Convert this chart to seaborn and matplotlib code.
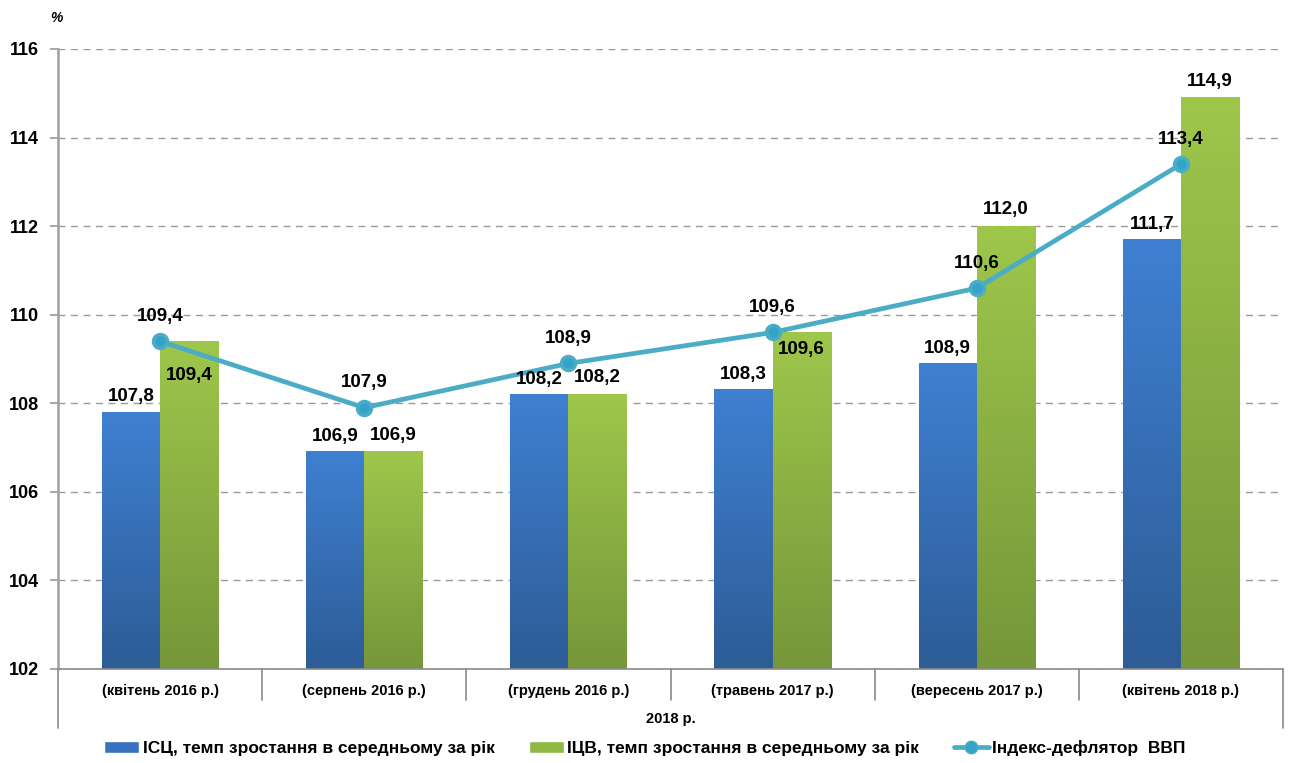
import numpy as np
import pandas as pd
import seaborn as sns
import matplotlib.pyplot as plt
from matplotlib.colors import LinearSegmentedColormap
from matplotlib.patches import Patch
from matplotlib.lines import Line2D
import matplotlib.transforms as mtransforms

# Dados
categorias = ["(квітень 2016 р.)", "(серпень 2016 р.)", "(грудень 2016 р.)",
              "(травень 2017 р.)", "(вересень 2017 р.)", "(квітень 2018 р.)"]
isc = [107.8, 106.9, 108.2, 108.3, 108.9, 111.7]
icv = [109.4, 106.9, 108.2, 109.6, 112.0, 114.9]
deflator = [109.4, 107.9, 108.9, 109.6, 110.6, 113.4]
rotulos_y = [102, 104, 106, 108, 110, 112, 114, 116]

nome_isc = "ІСЦ, темп зростання в середньому за рік"
nome_icv = "ІЦВ, темп зростання в середньому за рік"
nome_def = "Індекс-дефлятор  ВВП"

sns.set_theme(style="white")
plt.rcParams["font.family"] = ["Liberation Sans", "DejaVu Sans"]
plt.rcParams["text.color"] = "black"
plt.rcParams["xtick.color"] = "black"
plt.rcParams["ytick.color"] = "black"

df = pd.DataFrame({
    "cat": categorias * 2,
    "valor": isc + icv,
    "serie": [nome_isc] * 6 + [nome_icv] * 6,
})

fig = plt.figure(figsize=(12.9, 7.63), dpi=100)
ax = fig.add_axes([0.045, 0.1232, 0.9496, 0.8126])

azul = "#3a78c6"
verde = "#8fb944"
linha = "#4bacc6"

sns.barplot(data=df, x="cat", y="valor", hue="serie", palette=[azul, verde],
            width=0.57, gap=0, legend=False, ax=ax, zorder=2)

# Criando gradiente nas barras
def gradiente(ax, barras, topo, base, y0):
    cmap = LinearSegmentedColormap.from_list("g", [base, topo])
    grad = np.linspace(0, 1, 256).reshape(-1, 1)
    for b in barras:
        x, w, h = b.get_x(), b.get_width(), b.get_y() + b.get_height()
        ax.imshow(grad, cmap=cmap, extent=[x, x + w, y0, h], origin="lower",
                  aspect="auto", zorder=2.5, interpolation="bicubic")

gradiente(ax, ax.containers[0], "#3f80d2", "#2d5c96", rotulos_y[0])
gradiente(ax, ax.containers[1], "#9ec74b", "#76963a", rotulos_y[0])

sns.pointplot(x=categorias, y=deflator, color=linha, markers="o", linestyles="-",
              errorbar=None, ax=ax, linewidth=3.4, markersize=10, zorder=4)
for ln in ax.lines:
    ln.set_markerfacecolor("#33a4c8")
    ln.set_markeredgecolor(linha)
    ln.set_zorder(4)

ax.set_xlim(-0.5, 5.5)
ax.set_ylim(102, 116)
ax.set_yticks(rotulos_y)
ax.set_yticklabels([str(v) for v in rotulos_y], fontsize=13, fontweight="bold",
                   color="black")
ax.yaxis.grid(True, color="#9a9a9a", linestyle=(0, (5, 4)), linewidth=1)
ax.set_axisbelow(True)
ax.tick_params(axis="y", length=6, width=1.2, color="#9a9a9a", pad=8, left=True)
ax.tick_params(axis="x", length=0, pad=11)
for t in ax.get_xticklabels():
    t.set_fontsize(10.5)
    t.set_fontweight("bold")
    t.set_color("black")
ax.set_xlabel("")
ax.set_ylabel("")

for s in ["top", "right"]:
    ax.spines[s].set_visible(False)
ax.spines["left"].set_color("#a0a0a0")
ax.spines["left"].set_linewidth(1.8)
ax.spines["bottom"].set_color("#8a8a8a")
ax.spines["bottom"].set_linewidth(1.2)

# divisores das categorias
trans = mtransforms.blended_transform_factory(ax.transData, ax.transAxes)
for i in range(len(categorias) + 1):
    fim = -0.095 if i in (0, len(categorias)) else -0.05
    ax.plot([i - 0.5, i - 0.5], [0, fim], color="#8a8a8a", lw=1.2,
            transform=trans, clip_on=False)

ax.text(0.5, -0.081, "2018 р.", transform=ax.transAxes, ha="center", va="center",
        fontsize=10.5, fontweight="bold", color="black")

# rotulos de dados
ofs_icv = [-25, 12, 12, -12, 12, 12]
estilo = dict(textcoords="offset points", ha="center", va="center",
              fontsize=13.5, fontweight="bold", color="black", zorder=6)
for i in range(len(categorias)):
    ax.annotate(f"{isc[i]:.1f}".replace(".", ","), (i - 0.1425, isc[i]),
                xytext=(0, 11), **estilo)
    ax.annotate(f"{icv[i]:.1f}".replace(".", ","), (i + 0.1425, icv[i]),
                xytext=(0, ofs_icv[i]), **estilo)
    ax.annotate(f"{deflator[i]:.1f}".replace(".", ","), (i, deflator[i]),
                xytext=(0, 18), **estilo)

fig.text(0.044, 0.977, "%", ha="center", va="center", fontsize=10,
         fontweight="bold", fontstyle="italic", color="black")

handles = [Patch(facecolor="#3672bf", label=nome_isc),
           Patch(facecolor="#8fb944", label=nome_icv),
           Line2D([], [], color=linha, lw=3.4, marker="o", markersize=9,
                  markerfacecolor="#33a4c8", markeredgecolor=linha, label=nome_def)]
fig.legend(handles=handles, loc="center", bbox_to_anchor=(0.5, 0.02), ncol=3,
           frameon=False, prop={"size": 12.5, "weight": "bold"},
           handlelength=2.0, handleheight=0.7, handletextpad=0.2, columnspacing=2.0)

plt.savefig("out.png", dpi=100)
